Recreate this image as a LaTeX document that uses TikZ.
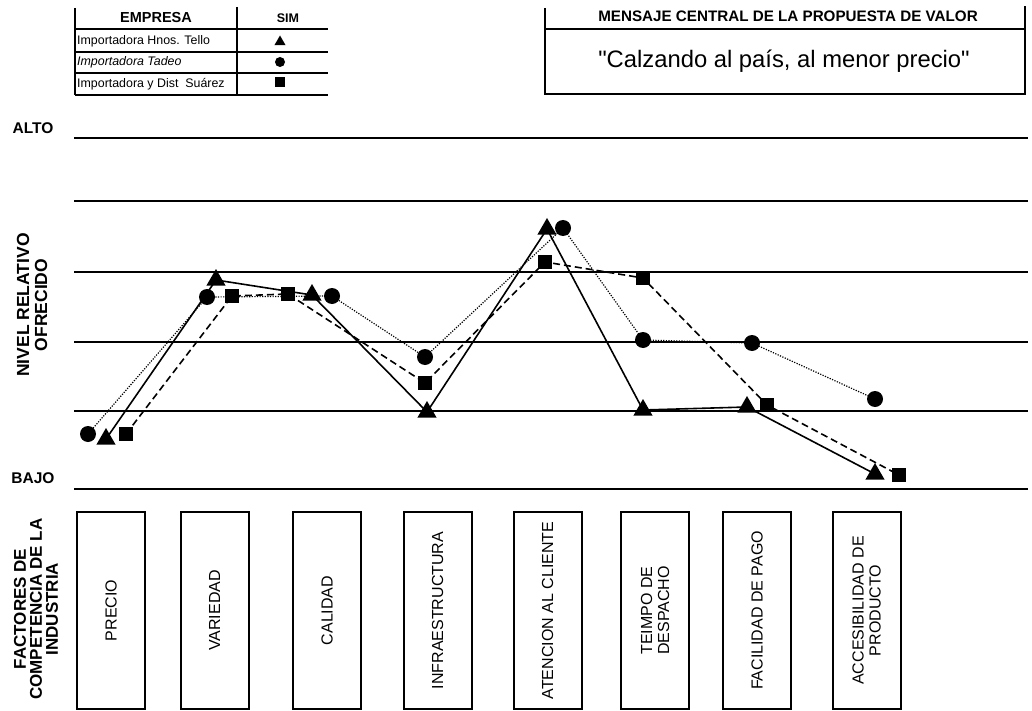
\documentclass[tikz,border=0pt]{standalone}
\usepackage{fontspec}
\setmainfont{Liberation Sans}[Ligatures=TeXOff]
\usetikzlibrary{shapes.geometric}
\pgfdeclarelayer{grid}
\pgfdeclarelayer{series}
\pgfsetlayers{grid,series,main}

\tikzset{
  gridline/.style={line width=2pt},
  tabline/.style={line width=1.3pt},
  factor/.style={draw, line width=2pt, rotate=90, minimum width=197pt,
    minimum height=68pt, inner sep=0pt, align=center,
    font=\fontsize{16}{17}\selectfont},
  tri/.style={regular polygon, regular polygon sides=3, fill=black,
    minimum size=22pt, inner sep=0pt},
  dot/.style={circle, fill=black, minimum size=16pt, inner sep=0pt},
  sq/.style={rectangle, fill=black, minimum size=14pt, inner sep=0pt},
  legtri/.style={tri, minimum size=13pt},
  legdot/.style={dot, minimum size=10pt},
  legsq/.style={sq, minimum size=10pt},
  sertri/.style={line width=1.6pt},
  sercirc/.style={line width=1.2pt, dash pattern=on 1.2pt off 1.4pt},
  sersq/.style={line width=1.6pt, dash pattern=on 7pt off 4pt},
  rowtext/.style={anchor=west, inner sep=1pt, font=\fontsize{12.4}{12}\selectfont},
  axislabel/.style={font=\bfseries\fontsize{15.5}{15}\selectfont},
}

\begin{document}
\begin{tikzpicture}[x=1pt, y=-1pt]
\useasboundingbox (0,0) rectangle (1032,711);

% ---- legend table ----
\draw[tabline] (75,8) -- (75,95);
\draw[tabline] (237,7) -- (237,95);
\foreach \yy in {29,52,73,95} \draw[tabline] (75,\yy) -- (328,\yy);
\node[font=\bfseries\fontsize{14.5}{14}\selectfont] (hEmp) at (156,18) {EMPRESA};
\node[font=\bfseries\fontsize{12.5}{12}\selectfont] (hSim) at (288,18) {SIM};
\node[rowtext] (r1) at (76,41) {Importadora Hnos. Tello};
\node[rowtext, font=\itshape\fontsize{12.4}{12}\selectfont] (r2) at (76,62) {Importadora Tadeo};
\node[rowtext] (r3) at (76,84) {Importadora y Dist\ \ Suárez};
\node[legtri] (lt) at (280,42) {};
\node[legdot] (lc) at (280,62) {};
\node[legsq] (ls) at (280,82) {};

% ---- value proposition box ----
\draw[tabline] (545,8) -- (545,94) -- (1025,94) -- (1025,6);
\draw[tabline] (545,29) -- (1025,29);
\node[font=\bfseries\fontsize{15.2}{15}\selectfont] (msgT) at (788,16) {MENSAJE CENTRAL DE LA PROPUESTA DE VALOR};
\node[font=\fontsize{23.8}{24}\selectfont] (msg) at (784,61) {"Calzando al país, al menor precio"};

% ---- level grid ----
\begin{pgfonlayer}{grid}
\foreach \yy in {138,201,272,342,411,489}
  \draw[gridline] (74,\yy) -- (1028,\yy);
\end{pgfonlayer}
\node[axislabel] (alto) at (33,128) {ALTO};
\node[axislabel] (bajo) at (33,478) {BAJO};
\node[rotate=90, align=center, font=\bfseries\fontsize{17.5}{18}\selectfont] (nivel) at (32,305) {NIVEL RELATIVO\\OFRECIDO};

% ---- competitive factors ----
\node[rotate=90, align=center, font=\bfseries\fontsize{17}{16}\selectfont] (fact) at (36,609) {FACTORES DE\\COMPETENCIA DE LA\\INDUSTRIA};
\node[factor] (f1) at (111,610.5) {PRECIO};
\node[factor] (f2) at (214.5,610.5) {VARIEDAD};
\node[factor] (f3) at (327,610.5) {CALIDAD};
\node[factor] (f4) at (437.5,610.5) {INFRAESTRUCTURA};
\node[factor] (f5) at (547.5,610.5) {ATENCION AL CLIENTE};
\node[factor] (f6) at (655,610.5) {TEIMPO DE\\DESPACHO};
\node[factor] (f7) at (757,610.5) {FACILIDAD DE PAGO};
\node[factor] (f8) at (866.5,610.5) {ACCESIBILIDAD DE\\PRODUCTO};

% ---- Importadora Hnos. Tello (triangles) ----
\node[tri] (t1) at (106,439) {};
\node[tri] (t2) at (216,280) {};
\node[tri] (t3) at (312,295) {};
\node[tri] (t4) at (427,412) {};
\node[tri] (t5) at (547,229) {};
\node[tri] (t6) at (643,410) {};
\node[tri] (t7) at (747,407) {};
\node[tri] (t8) at (875,474) {};

% ---- Importadora Tadeo (circles) ----
\node[dot] (c1) at (88,434) {};
\node[dot] (c2) at (207,297) {};
\node[dot] (c3) at (332,296) {};
\node[dot] (c4) at (425,357) {};
\node[dot] (c5) at (563,228) {};
\node[dot] (c6) at (643,340) {};
\node[dot] (c7) at (752,343) {};
\node[dot] (c8) at (875,399) {};

% ---- Importadora y Dist. Suarez (squares) ----
\node[sq] (s1) at (126,434) {};
\node[sq] (s2) at (232,296) {};
\node[sq] (s3) at (288,294) {};
\node[sq] (s4) at (425,383) {};
\node[sq] (s5) at (545,262) {};
\node[sq] (s6) at (643,278) {};
\node[sq] (s7) at (767,405) {};
\node[sq] (s8) at (899,475) {};

\begin{pgfonlayer}{series}
\draw[sertri] (t1.center) -- (t2.center) -- (t3.center) -- (t4.center)
  -- (t5.center) -- (t6.center) -- (t7.center) -- (t8.center);
\draw[sercirc] (c1.center) -- (c2.center) -- (c3.center) -- (c4.center)
  -- (c5.center) -- (c6.center) -- (c7.center) -- (c8.center);
\draw[sersq] (s1.center) -- (s2.center) -- (s3.center) -- (s4.center)
  -- (s5.center) -- (s6.center) -- (s7.center) -- (s8.center);
\end{pgfonlayer}
\end{tikzpicture}
\end{document}
